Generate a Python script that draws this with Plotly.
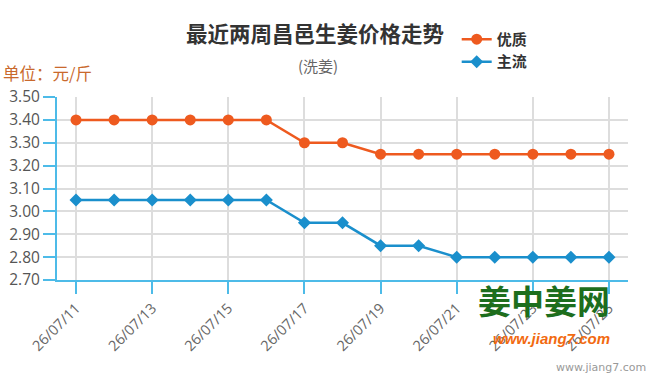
import plotly.graph_objects as go

dates = ["26/07/11", "26/07/12", "26/07/13", "26/07/14", "26/07/15", "26/07/16", "26/07/17",
         "26/07/18", "26/07/19", "26/07/20", "26/07/21", "26/07/22", "26/07/23", "26/07/24", "26/07/25"]
premium = [3.40, 3.40, 3.40, 3.40, 3.40, 3.40, 3.30, 3.30, 3.25, 3.25, 3.25, 3.25, 3.25, 3.25, 3.25]
mainstream = [3.05, 3.05, 3.05, 3.05, 3.05, 3.05, 2.95, 2.95, 2.85, 2.85, 2.80, 2.80, 2.80, 2.80, 2.80]
tick_labels = dates[::2]
y_ticks = [2.70, 2.80, 2.90, 3.00, 3.10, 3.20, 3.30, 3.40, 3.50]

ORANGE = "#ee5a1f"
BLUE = "#1a8fcc"
AXIS = "#4dbbe8"
FONT = "Open Sans, Noto Sans CJK SC, sans-serif"
CJK = "Noto Sans CJK SC, sans-serif"

fig = go.Figure()
fig.add_trace(go.Scatter(x=dates, y=premium, name="<b>优质</b>", mode="lines+markers",
                         line=dict(color=ORANGE, width=2.5),
                         marker=dict(symbol="circle", size=11, color=ORANGE)))
fig.add_trace(go.Scatter(x=dates, y=mainstream, name="<b>主流</b>", mode="lines+markers",
                         line=dict(color=BLUE, width=2.5),
                         marker=dict(symbol="diamond", size=10, color=BLUE)))

fig.update_layout(
    width=650, height=383,
    margin=dict(l=57, r=22, t=97, b=103, autoexpand=False),
    paper_bgcolor="white", plot_bgcolor="white",
    font=dict(family=FONT, color="#555"),
    showlegend=True,
    legend=dict(x=0.700, y=1.405, xanchor="left", yanchor="top",
                font=dict(family=CJK, size=15, color="#333"),
                bgcolor="rgba(0,0,0,0)", tracegroupgap=0, itemwidth=30),
    xaxis=dict(type="category", range=[-0.5, 14.5], automargin=False,
               tickmode="array", tickvals=tick_labels, ticktext=tick_labels,
               tickangle=-45, tickfont=dict(size=14.5, color="#666"),
               showgrid=True, gridcolor="#dddddd", gridwidth=1.5,
               showline=True, linecolor=AXIS, linewidth=2,
               ticks="outside", ticklen=12, tickcolor=AXIS, tickwidth=1.5,
               zeroline=False),
    yaxis=dict(range=[2.70, 3.50], tickmode="array", tickvals=y_ticks, automargin=False,
               ticktext=[f"{v:.2f}" for v in y_ticks],
               tickfont=dict(size=15.5, color="#555"),
               showgrid=True, gridcolor="#dddddd", gridwidth=1.5,
               showline=True, linecolor=AXIS, linewidth=2,
               ticks="outside", ticklen=12, tickcolor=AXIS, tickwidth=1.5,
               zeroline=False),
)

fig.add_annotation(text="<b>最近两周昌邑生姜价格走势</b>", xref="paper", yref="paper",
                   x=0.452, y=1.35, xanchor="center", yanchor="middle", showarrow=False,
                   font=dict(family=CJK, size=21.5, color="#333"))
fig.add_annotation(text="(洗姜)", xref="paper", yref="paper",
                   x=0.457, y=1.17, xanchor="center", yanchor="middle", showarrow=False,
                   font=dict(family=CJK, size=15, color="#666"))
fig.add_annotation(text="单位：元/斤", xref="paper", yref="paper",
                   x=-0.098, y=1.13, xanchor="left", yanchor="middle", showarrow=False,
                   font=dict(family=CJK, size=16.5, color="#c9692c"))
# watermark
fig.add_annotation(text="<b>姜中姜网</b>", xref="paper", yref="paper",
                   x=0.972, y=-0.11, xanchor="right", yanchor="middle", showarrow=False,
                   font=dict(family=CJK, size=33, color="#1d6e1d"))
fig.add_annotation(text="<b><i>www.jiang7.com</i></b>", xref="paper", yref="paper",
                   x=0.972, y=-0.317, xanchor="right", yanchor="middle", showarrow=False,
                   font=dict(family="Liberation Sans, sans-serif", size=15, color="#f26a10"))
fig.add_annotation(text="www.jiang7.com", xref="paper", yref="paper",
                   x=1.035, y=-0.48, xanchor="right", yanchor="middle", showarrow=False,
                   font=dict(family="DejaVu Sans, sans-serif", size=11, color="#999"))

fig.write_html("out.html")
